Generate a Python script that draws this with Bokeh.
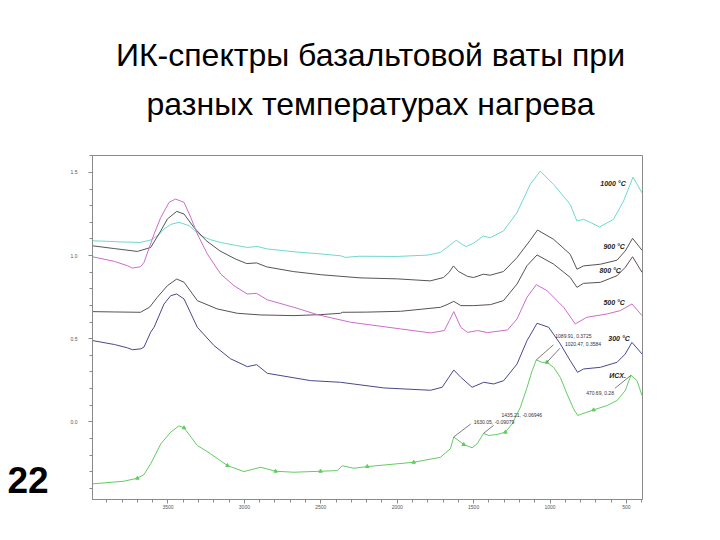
import numpy as np
from bokeh.plotting import figure
from bokeh.layouts import column, row
from bokeh.models import Range1d, FixedTicker, PrintfTickFormatter, Label
from bokeh.core.properties import value
from bokeh.embed import file_html
from bokeh.resources import INLINE

# ---------------- data ----------------
title_lines = ["ИК-спектры базальтовой ваты при", "разных температурах нагрева"]
slide_number = "22"

x_ticks = [3500, 3000, 2500, 2000, 1500, 1000, 500]
y_ticks = [0.0, 0.5, 1.0, 1.5]

wn_1000 = [3994, 3900, 3800, 3680, 3613, 3560, 3526, 3480, 3428, 3363, 3286, 3220, 3155, 3060, 2981,
           2916, 2850, 2676, 2500, 2371, 2340, 2250, 2000, 1800, 1717, 1660, 1614, 1580, 1549, 1500,
           1436, 1392, 1305, 1217, 1130, 1064, 977, 868, 824, 781, 737, 676, 585, 519, 457, 398]
ab_1000 = [1.089, 1.086, 1.082, 1.079, 1.094, 1.125, 1.160, 1.188, 1.200, 1.180, 1.120, 1.095, 1.079,
           1.062, 1.049, 1.055, 1.040, 1.023, 1.010, 0.999, 0.989, 0.996, 0.995, 1.003, 1.019, 1.060,
           1.092, 1.070, 1.054, 1.075, 1.118, 1.107, 1.148, 1.257, 1.428, 1.508, 1.428, 1.308, 1.208,
           1.218, 1.200, 1.172, 1.218, 1.328, 1.472, 1.377]

wn_900 = [3994, 3850, 3700, 3613, 3547, 3504, 3443, 3395, 3330, 3250, 3160, 3060, 2985, 2920, 2854,
          2680, 2500, 2243, 2000, 1784, 1697, 1660, 1632, 1600, 1540, 1501, 1436, 1392, 1305, 1217,
          1130, 1082, 977, 868, 824, 781, 671, 562, 508, 460, 398]
ab_900 = [1.059, 1.042, 1.025, 1.049, 1.149, 1.220, 1.266, 1.250, 1.169, 1.090, 1.028, 0.980, 0.952,
          0.956, 0.932, 0.904, 0.885, 0.866, 0.860, 0.848, 0.868, 0.900, 0.938, 0.905, 0.875, 0.868,
          0.888, 0.882, 0.904, 0.987, 1.092, 1.154, 1.098, 1.008, 0.918, 0.938, 0.948, 0.972, 1.028,
          1.104, 1.032]

wn_800 = [3994, 3850, 3680, 3620, 3570, 3504, 3443, 3395, 3308, 3177, 3046, 2894, 2676, 2500, 2371,
          2360, 2200, 1978, 1717, 1674, 1630, 1584, 1500, 1390, 1305, 1216, 1151, 1085, 977, 868,
          824, 781, 671, 562, 508, 460, 398]
ab_800 = [0.663, 0.661, 0.659, 0.690, 0.749, 0.819, 0.859, 0.840, 0.729, 0.679, 0.653, 0.643, 0.639,
          0.645, 0.653, 0.659, 0.660, 0.665, 0.689, 0.705, 0.725, 0.699, 0.699, 0.705, 0.729, 0.829,
          0.939, 1.004, 0.949, 0.869, 0.809, 0.833, 0.839, 0.879, 0.929, 0.993, 0.899]

wn_500 = [3994, 3850, 3765, 3733, 3680, 3657, 3591, 3547, 3493, 3450, 3395, 3351, 3308, 3242, 3155,
          3068, 2981, 2920, 2850, 2676, 2523, 2305, 1978, 1782, 1692, 1659, 1630, 1584, 1540, 1474,
          1409, 1278, 1216, 1151, 1090, 1019, 911, 835, 759, 627, 540, 464, 398]
ab_500 = [0.993, 0.965, 0.939, 0.925, 0.933, 0.959, 1.130, 1.230, 1.320, 1.340, 1.320, 1.230, 1.130,
          1.009, 0.889, 0.819, 0.769, 0.773, 0.734, 0.689, 0.645, 0.599, 0.559, 0.535, 0.549, 0.609,
          0.663, 0.569, 0.538, 0.549, 0.537, 0.553, 0.619, 0.749, 0.825, 0.789, 0.689, 0.589, 0.629,
          0.649, 0.669, 0.709, 0.639]

wn_300 = [3994, 3850, 3765, 3733, 3678, 3657, 3613, 3591, 3526, 3482, 3443, 3395, 3308, 3199, 3090,
          2981, 2920, 2850, 2567, 2371, 2088, 1782, 1706, 1662, 1630, 1584, 1510, 1434, 1369, 1303,
          1216, 1151, 1085, 1009, 933, 868, 820, 781, 671, 562, 508, 464, 398]
ab_300 = [0.489, 0.465, 0.445, 0.434, 0.439, 0.450, 0.540, 0.569, 0.709, 0.759, 0.769, 0.739, 0.569,
          0.459, 0.379, 0.332, 0.344, 0.292, 0.248, 0.238, 0.204, 0.190, 0.208, 0.268, 0.312, 0.268,
          0.208, 0.238, 0.228, 0.248, 0.348, 0.488, 0.593, 0.569, 0.469, 0.368, 0.298, 0.318, 0.328,
          0.358, 0.408, 0.478, 0.408]

wn_init = [3994, 3788, 3700, 3657, 3613, 3547, 3482, 3428, 3395, 3308, 3221, 3111, 3003, 2894, 2796,
           2676, 2502, 2392, 2360, 2284, 2196, 1892, 1717, 1652, 1630.05, 1565, 1510, 1477, 1435.21,
           1401, 1346, 1292, 1248, 1194, 1150, 1117, 1089.91, 1052, 1020.47, 977, 933, 889, 846, 819,
           791, 715, 627, 562, 508, 470.69, 431, 398]
ab_init = [-0.373, -0.357, -0.339, -0.317, -0.252, -0.132, -0.062, -0.024, -0.036, -0.142, -0.192,
           -0.263, -0.299, -0.273, -0.297, -0.303, -0.297, -0.293, -0.264, -0.279, -0.269, -0.243,
           -0.213, -0.162, -0.09079, -0.136, -0.156, -0.132, -0.06946, -0.082, -0.076, -0.062, -0.012,
           0.088, 0.208, 0.308, 0.3725, 0.358, 0.3584, 0.328, 0.268, 0.168, 0.078, 0.038, 0.048, 0.072,
           0.098, 0.128, 0.188, 0.28, 0.248, 0.158]
init_marker_wn = [3700, 3395, 3111, 2796, 2502, 2196, 1892, 1565, 1292, 1020.47, 715]

series_labels = ["1000 °C", "900 °C", "800 °C", "500 °C", "300 °C", "ИСХ."]

peak_wn = [1089.91, 1020.47, 1435.21, 1630.05, 470.69]
peak_ab = [0.3725, 0.3584, -0.06946, -0.09079, 0.28]

# ---------------- layout / style ----------------
W, H = 720, 540
TOP_H = 150      # height of title strip
LEFT_W = 50      # width of slide-number strip
X0, X1 = 3994, 395
Y0, Y1 = -0.467, 1.602
FL, FR, FT, FB = 92, 642, 155, 499   # plot frame, page pixels


def dpx_x(d):
    return d * (X1 - X0) / (FR - FL)


def dpx_y(d):
    return -d * (Y1 - Y0) / (FB - FT)


def blank(width, height):
    f = figure(width=width, height=height, x_range=Range1d(0, width), y_range=Range1d(0, height),
               output_backend="svg", toolbar_location=None, min_border=0, title=None,
               x_axis_type=None, y_axis_type=None)
    f.grid.visible = False
    f.outline_line_color = None
    f.background_fill_color = "white"
    f.border_fill_color = "white"
    return f


# title strip
t = blank(W, TOP_H)
t.text(x=[370, 370], y=[TOP_H - 54, TOP_H - 103], text=title_lines,
       text_font=value("Liberation Sans"), text_font_size="32px", text_color="#000000",
       text_align="center", text_baseline="alphabetic")

# slide number strip
n = blank(LEFT_W, H - TOP_H)
n.text(x=[7], y=[22], text=[slide_number], text_font=value("Liberation Sans"),
       text_font_size="37px", text_font_style="bold", text_color="#000000",
       text_align="left", text_baseline="alphabetic")

# main chart
p = figure(width=W - LEFT_W, height=H - TOP_H, x_range=Range1d(X0, X1), y_range=Range1d(Y0, Y1),
           output_backend="svg", toolbar_location=None, title=None,
           min_border_left=FL - LEFT_W, min_border_right=W - FR,
           min_border_top=FT - TOP_H, min_border_bottom=H - FB)
p.grid.visible = False
frame_col = "#8a8a8a"
p.outline_line_color = frame_col
p.outline_line_width = 1
p.background_fill_color = "white"
p.border_fill_color = "white"

p.xaxis.ticker = FixedTicker(ticks=x_ticks, minor_ticks=list(range(400, 4000, 100)))
p.yaxis.ticker = FixedTicker(ticks=y_ticks, minor_ticks=[round(v, 1) for v in np.arange(-0.4, 1.65, 0.1)])
p.xaxis.formatter = PrintfTickFormatter(format="%d")
p.yaxis.formatter = PrintfTickFormatter(format="%.1f")
for ax in (p.xaxis[0], p.yaxis[0]):
    ax.axis_line_color = frame_col
    ax.major_tick_line_color = frame_col
    ax.minor_tick_line_color = frame_col
    ax.major_tick_in = 0
    ax.minor_tick_in = 0
    ax.major_tick_out = 4
    ax.minor_tick_out = 3
    ax.major_label_text_font_size = "5px"
    ax.major_label_text_color = "#555555"
    ax.major_label_text_font = "Liberation Sans"
p.yaxis.major_label_standoff = 11
p.xaxis.major_label_standoff = 1

colors = ["#6ed8cf", "#555555", "#5a5055", "#cc6ccc", "#48488c", "#62cc62"]
wns = [wn_1000, wn_900, wn_800, wn_500, wn_300, wn_init]
abs_ = [ab_1000, ab_900, ab_800, ab_500, ab_300, ab_init]
for wn, ab, c in zip(wns, abs_, colors):
    p.line(wn, ab, line_color=c, line_width=1)

mk_idx = [wn_init.index(w) for w in init_marker_wn]
p.scatter([wn_init[i] for i in mk_idx], [ab_init[i] for i in mk_idx], marker="triangle",
          size=3.5, fill_color=colors[5], line_color=colors[5])

# series labels (positions in data units)
label_pos = [(671, 1.435), (651, 1.057), (677, 0.909), (651, 0.717), (619, 0.504), (612, 0.281)]
for txt, (lx, ly) in zip(series_labels, label_pos):
    p.add_layout(Label(x=lx, y=ly, text=txt, text_font="Liberation Sans", text_font_style="bold italic",
                       text_font_size="7px", text_color="#222222", text_baseline="middle", text_align="left"))

# peak annotations: leader (dx,dy) and text (dx,dy) screen offsets, text align
ann_style = [((17, -15), (19, -24), "left"),
             ((13, -14), (18, -18), "left"),
             ((10, -8), (18, -18), "left"),
             ((17, -13), (20, -15), "left"),
             ((-16, 13), (-17, 18), "right")]
for wx, ay, (lead, toff, al) in zip(peak_wn, peak_ab, ann_style):
    p.segment(x0=[wx], y0=[ay], x1=[wx + dpx_x(lead[0])], y1=[ay + dpx_y(lead[1])],
              line_color="#444444", line_width=0.7)
    p.add_layout(Label(x=wx + dpx_x(toff[0]), y=ay + dpx_y(toff[1]), text=f"{wx}, {ay}",
                       text_font="Liberation Sans", text_font_size="5px", text_color="#333333",
                       text_baseline="middle", text_align=al))

layout = column(t, row(n, p, spacing=0), spacing=0)
open("out.html", "w").write(file_html(layout, INLINE))
